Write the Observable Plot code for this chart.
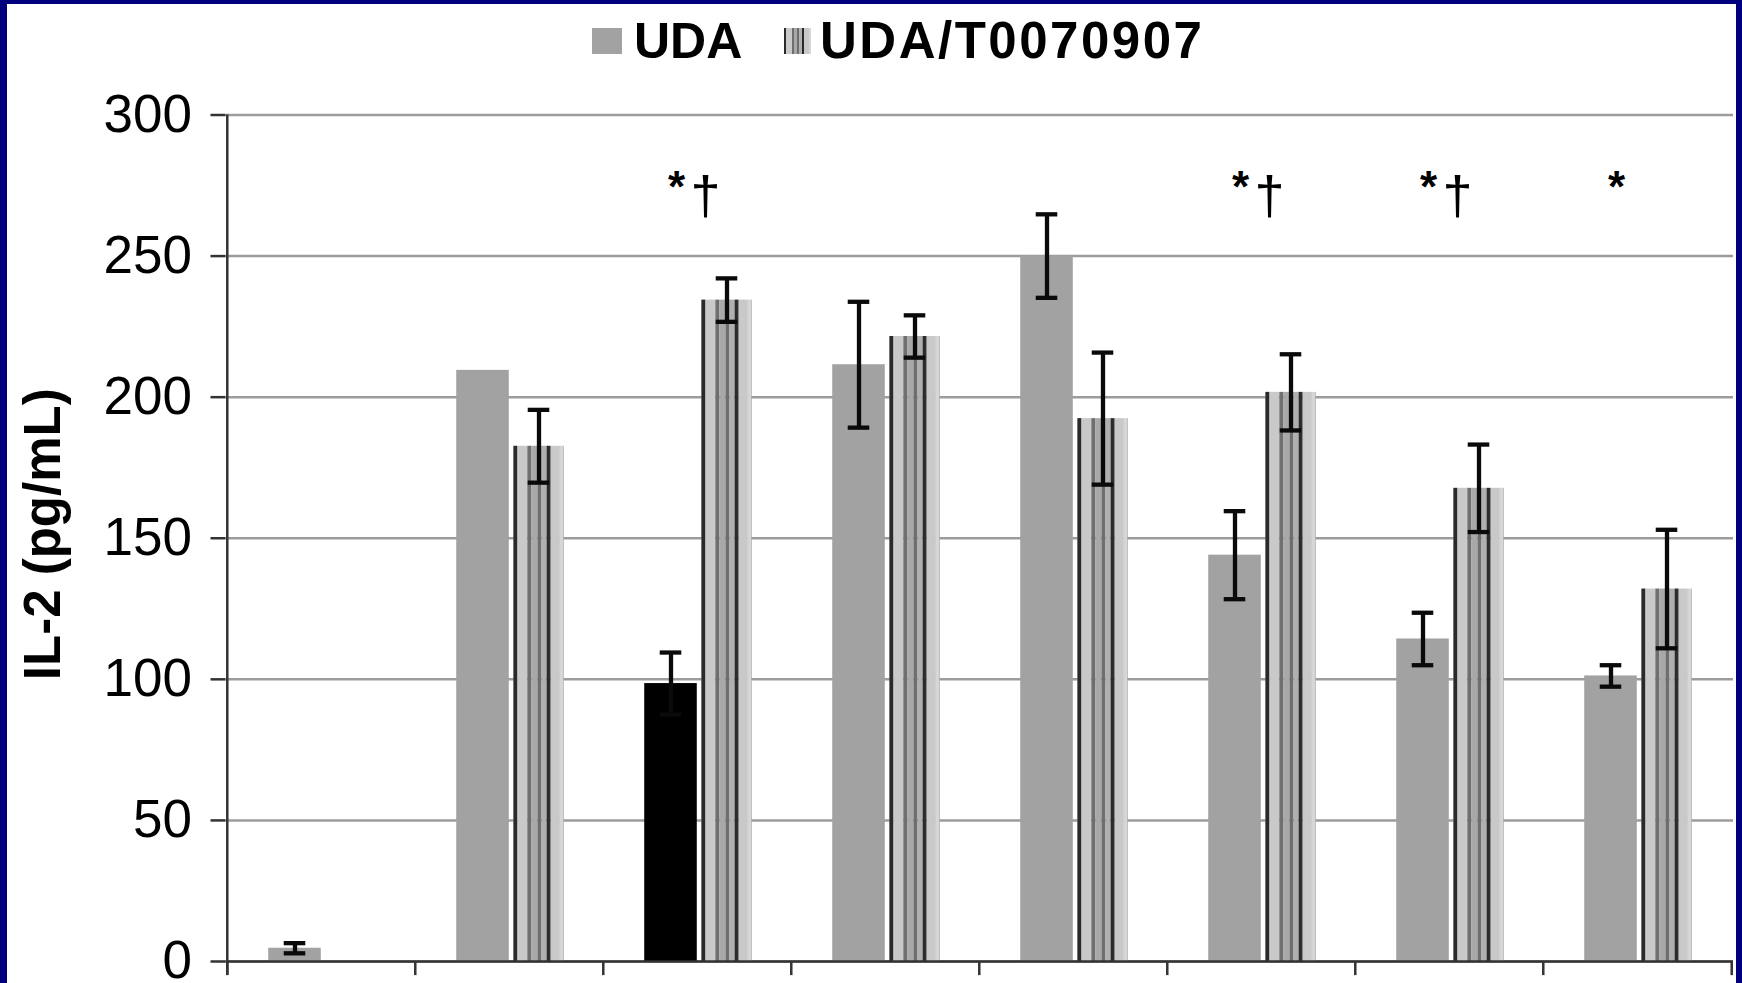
<!DOCTYPE html>
<html>
<head>
<meta charset="utf-8">
<script src="https://cdn.jsdelivr.net/npm/d3@7"></script>
<script src="https://cdn.jsdelivr.net/npm/@observablehq/plot@0.6"></script>
<style>
  html, body { margin: 0; padding: 0; background: #00007e; width: 1742px; height: 983px; overflow: hidden; }
  #panel { position: absolute; left: 7px; top: 4px; width: 1729px; height: 979px; background: #fff; overflow: hidden; }
  #chart { position: absolute; left: 0; top: 0; }
  .lg { position: absolute; font-family: "Liberation Sans", Arial, Helvetica, sans-serif; font-weight: bold; font-size: 50px; line-height: 50px; color: #000; white-space: nowrap; z-index: 2; }
  .sw { position: absolute; z-index: 2; }
</style>
</head>
<body>
<div id="panel">
  <div id="chart"></div>
  <div class="sw" id="sw0" style="left:585px;top:24px;width:30px;height:26px;"></div>
  <div class="lg" id="lg0" style="left:627px;top:12px;"></div>
  <div class="sw" id="sw1" style="left:777px;top:24px;width:27px;height:26px;"></div>
  <div class="lg" id="lg1" style="left:813px;top:12px;letter-spacing:2.5px;font-size:51px;"></div>
</div>
<script>
// ---- data ----
const categories = ["1", "2", "3", "4", "5", "6", "7", "8"];
const seriesNames = ["UDA", "UDA/T0070907"];
const udaValues = [4.7, 209.5, 98.5, 211.5, 250, 144, 114.3, 101.2];
const udaErrors = [1.8, null, 11, 22.3, 14.8, 15.6, 9.3, 3.8];
const comboValues = [null, 182.6, 234.4, 221.5, 192.4, 201.7, 167.7, 132];
const comboErrors = [null, 12.9, 7.7, 7.5, 23.4, 13.5, 15.5, 21];
const highlighted = ["3"];
const starCategories = ["3", "6", "7", "8"];
const daggerCategories = ["3", "6", "7"];
const yTicks = [0, 50, 100, 150, 200, 250, 300];
const yLabel = "IL-2 (pg/mL)";

// ---- styles ----
const grayFill = "#a2a2a2";
const stripes = [
  [0.00, 0.08, "#2a2a2a"], [0.08, 0.28, "#c9c9c9"], [0.28, 0.36, "#6e6e6e"],
  [0.36, 0.48, "#a8a8a8"], [0.48, 0.56, "#6e6e6e"], [0.56, 0.66, "#b0b0b0"],
  [0.66, 0.74, "#2a2a2a"], [0.74, 0.92, "#c9c9c9"], [0.92, 1.00, "#d6d6d6"]
];

const uda = categories.map((c, i) => ({cat: c, v: udaValues[i], e: udaErrors[i]}));
const combo = categories.map((c, i) => ({cat: c, v: comboValues[i], e: comboErrors[i]}));

const W = 1729, H = 979, mL = 218.5, mR = 3, mT = 110.5, mB = 22;
const bw = (W - mL - mR) / categories.length;
const grayL = bw / 2 - 53, grayR = bw / 2;
const stripeL = bw / 2 + 4, stripeR = bw / 2 - 55;
const grayC = -26.5, stripeC = 29.5, capHalf = 11;
const ebStyle = {stroke: "#0a0a0a", strokeWidth: 4.3};

function errorMarks(rows, off) {
  const r = rows.filter(d => d.v != null && d.e != null);
  return [
    Plot.ruleX(r, {x: "cat", y1: d => d.v - d.e, y2: d => d.v + d.e, dx: off, ...ebStyle}),
    Plot.tickY(r, {x: "cat", y: d => d.v + d.e, insetLeft: bw / 2 + off - capHalf, insetRight: bw / 2 - off - capHalf, ...ebStyle}),
    Plot.tickY(r, {x: "cat", y: d => d.v - d.e, insetLeft: bw / 2 + off - capHalf, insetRight: bw / 2 - off - capHalf, ...ebStyle})
  ];
}

const axisColor = "#333";
const svg = Plot.plot({
  width: W, height: H,
  marginLeft: mL, marginRight: mR, marginTop: mT, marginBottom: mB,
  style: {fontFamily: "'Liberation Sans', Arial, Helvetica, sans-serif", fontSize: "53px", background: "transparent", color: "#000"},
  x: {type: "band", domain: categories, padding: 0, axis: null},
  y: {domain: [0, 300], axis: null},
  marks: [
    Plot.gridY(yTicks, {stroke: "#9c9c9c", strokeOpacity: 1, strokeWidth: 2.5}),
    Plot.barY(uda.filter(d => d.v != null && !highlighted.includes(d.cat)), {x: "cat", y: "v", fill: grayFill, insetLeft: grayL, insetRight: grayR}),
    Plot.barY(uda.filter(d => d.v != null && highlighted.includes(d.cat)), {x: "cat", y: "v", fill: "#000", insetLeft: grayL, insetRight: grayR}),
    Plot.barY(combo.filter(d => d.v != null), {x: "cat", y: "v", fill: "url(#uda-stripes)", insetLeft: stripeL, insetRight: stripeR}),
    ...errorMarks(uda, grayC),
    ...errorMarks(combo, stripeC),
    Plot.ruleY([0], {stroke: axisColor, strokeWidth: 2.5}),
    Plot.ruleX(categories, {x: d => d, y1: -5, y2: 0, dx: -bw / 2, stroke: axisColor, strokeWidth: 2.5}),
    Plot.ruleX(categories.slice(-1), {x: d => d, y1: -5, y2: 0, dx: bw / 2, stroke: axisColor, strokeWidth: 2.5}),
    Plot.ruleX(categories.slice(0, 1), {x: d => d, y1: -5, y2: 300, dx: -bw / 2, stroke: axisColor, strokeWidth: 2.5}),
    Plot.axisY(yTicks, {tickSize: 15, tickPadding: 19, fontSize: 53, stroke: axisColor, strokeWidth: 2.5, label: null}),
    Plot.text([yLabel], {frameAnchor: "left", rotate: -90, dx: -182, dy: -4, textAnchor: "middle", fontSize: 51, fontWeight: "bold", fill: "#000"}),
    Plot.text(starCategories, {x: d => d, y: 274, text: () => "*", dx: -21, fontSize: 44, fontWeight: "bold", fill: "#000"}),
    Plot.text(daggerCategories, {x: d => d, y: 271, text: () => "\u2020", dx: 8, fontSize: 54, fill: "#000"})
  ]
});

// stripe pattern for the UDA/T0070907 bars
const ns = "http://www.w3.org/2000/svg";
const defs = document.createElementNS(ns, "defs");
const pat = document.createElementNS(ns, "pattern");
pat.setAttribute("id", "uda-stripes");
pat.setAttribute("patternUnits", "objectBoundingBox");
pat.setAttribute("patternContentUnits", "objectBoundingBox");
pat.setAttribute("width", "1");
pat.setAttribute("height", "1");
for (const [a, b, c] of stripes) {
  const r = document.createElementNS(ns, "rect");
  r.setAttribute("x", a); r.setAttribute("y", 0);
  r.setAttribute("width", b - a); r.setAttribute("height", 1);
  r.setAttribute("fill", c);
  pat.appendChild(r);
}
defs.appendChild(pat);
svg.insertBefore(defs, svg.firstChild);
document.getElementById("chart").appendChild(svg);

// legend
document.getElementById("sw0").style.background = grayFill;
document.getElementById("sw1").style.background =
  "linear-gradient(to right," + stripes.map(([a, b, c]) => `${c} ${a * 100}% ${b * 100}%`).join(",") + ")";
document.getElementById("lg0").textContent = seriesNames[0];
document.getElementById("lg1").textContent = seriesNames[1];
</script>
</body>
</html>
